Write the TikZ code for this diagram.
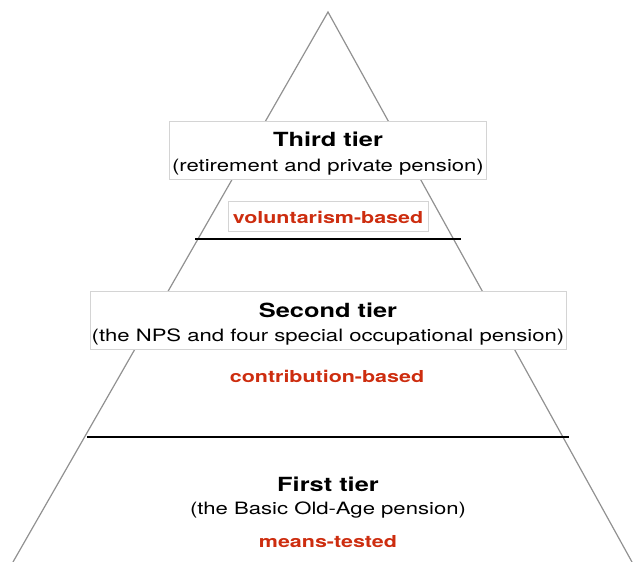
\documentclass[tikz,border=0pt]{standalone}
\usepackage{fontspec}
\setmainfont[FakeStretch=1.3]{TeX Gyre Heros}
\usetikzlibrary{positioning}
\definecolor{tierred}{RGB}{205,45,15}
\definecolor{edgegray}{RGB}{145,145,145}
\definecolor{boxgray}{RGB}{212,212,212}
\begin{document}
\begin{tikzpicture}[x=1pt, y=-1pt,
    tierbox/.style={draw=boxgray, fill=white, inner sep=0pt},
    title/.style={font=\fontsize{19.5}{22}\selectfont\bfseries},
    sub/.style={font=\fontsize{17}{20}\selectfont},
    basis/.style={font=\fontsize{16.5}{19}\selectfont\bfseries, text=tierred},
    layer/.style={line width=1.2pt}
]
\useasboundingbox (0,0) rectangle (633,562);
% pyramid outline
\coordinate (apex) at (328,12);
\coordinate (baseL) at (13,562);
\coordinate (baseR) at (632,562);
\draw[edgegray, line width=1.2pt] (baseL) -- (apex) -- (baseR);

% tier borders
\coordinate (cut3L) at (195,239);
\coordinate (cut3R) at (461,239);
\coordinate (cut2L) at (87,437);
\coordinate (cut2R) at (569,437);
\draw[layer] (cut3L) -- (cut3R);
\draw[layer] (cut2L) -- (cut2R);

% third tier
\node[tierbox, minimum width=317, minimum height=58] (box3) at (327.5,150) {};
\node[title] (t3) at (328,139) {Third tier};
\node[sub] (s3) at (328,167) {(retirement and private pension)};
\node[tierbox, minimum width=200, minimum height=30] (vbox) at (328,216) {};
\node[basis] (b3) at (328,217) {voluntarism-based};

% second tier
\node[tierbox, minimum width=476, minimum height=58] (box2) at (328,320) {};
\node[title] (t2) at (328,310) {Second tier};
\node[sub] (s2) at (328,337) {(the NPS and four special occupational pension)};
\node[basis] (b2) at (327,376) {contribution-based};

% first tier
\node[title] (t1) at (328,484) {First tier};
\node[sub] (s1) at (328,510) {(the Basic Old-Age pension)};
\node[basis] (b1) at (328,542) {means-tested};
\end{tikzpicture}
\end{document}
